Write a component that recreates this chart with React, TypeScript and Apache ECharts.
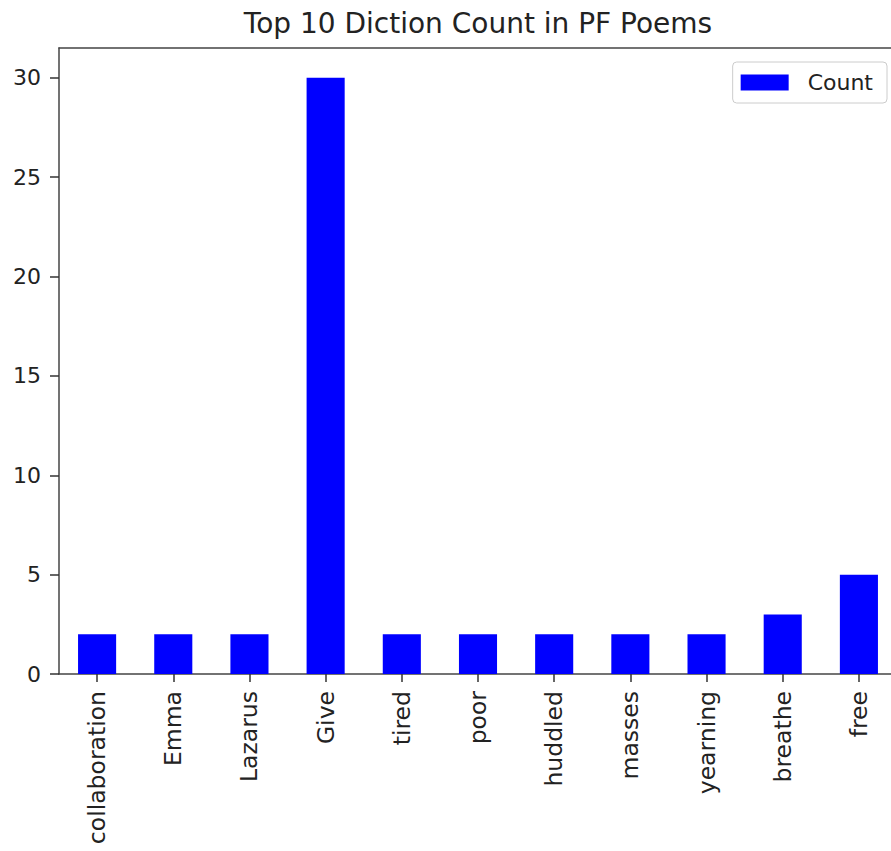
import React, { useEffect, useRef } from "react";
import * as echarts from "echarts";

const categories = ["collaboration", "Emma", "Lazarus", "Give", "tired", "poor", "huddled", "masses", "yearning", "breathe", "free"];
const counts = [2, 2, 2, 30, 2, 2, 2, 2, 2, 3, 5];
const yTicks = [0, 5, 10, 15, 20, 25, 30];
const titleText = "Top 10 Diction Count in PF Poems";
const seriesName = "Count";

const FONT = "DejaVu Sans";
const SPINE = { color: "#444", width: 1.5 };

export default function App() {
  const ref = useRef<HTMLDivElement>(null);
  useEffect(() => {
    if (!ref.current) return;
    const chart = echarts.init(ref.current, null, { renderer: "svg" });
    chart.setOption({
      animation: false,
      backgroundColor: "#ffffff",
      title: {
        text: titleText,
        left: 473,
        textAlign: "center",
        top: 4,
        textStyle: { fontFamily: FONT, fontSize: 28, fontWeight: "normal", color: "#222" },
      },
      legend: {
        data: [seriesName],
        icon: "rect",
        right: 13,
        top: 62,
        itemWidth: 48,
        itemHeight: 16,
        padding: [8, 14, 8, 8],
        backgroundColor: "rgba(255,255,255,0.8)",
        borderColor: "#cccccc",
        borderWidth: 1,
        borderRadius: 4,
        textStyle: { fontFamily: FONT, fontSize: 22, color: "#222", padding: [0, 0, 0, 14], lineHeight: 25 },
      },
      grid: {
        left: 59,
        top: 48,
        width: 838,
        height: 626,
        show: false,
        containLabel: false,
      },
      xAxis: [
        {
          type: "category",
          data: categories,
          boundaryGap: true,
          axisLine: { show: true, lineStyle: SPINE },
          axisTick: { show: true, alignWithLabel: true, length: 8, lineStyle: { color: "#333", width: 1.5 } },
          axisLabel: { rotate: 90, interval: 0, fontFamily: FONT, fontSize: 23.5, color: "#222", margin: 17 },
          splitLine: { show: false },
        },
        {
          type: "category",
          data: categories,
          position: "top",
          boundaryGap: true,
          axisLine: { show: true, lineStyle: SPINE },
          axisTick: { show: false },
          axisLabel: { show: false },
          splitLine: { show: false },
        },
      ],
      yAxis: {
        type: "value",
        min: 0,
        max: 31.5,
        axisLine: { show: true, lineStyle: SPINE },
        axisTick: { show: true, length: 9, customValues: yTicks, lineStyle: { color: "#333", width: 1.5 } },
        axisLabel: { fontFamily: FONT, fontSize: 22, color: "#222", margin: 18, customValues: yTicks },
        splitLine: { show: false },
      },
      series: [
        {
          name: seriesName,
          type: "bar",
          data: counts,
          barWidth: "50%",
          itemStyle: { color: "#0000ff" },
        },
      ],
    });
    return () => chart.dispose();
  }, []);
  return (
    <div style={{ position: "absolute", left: 0, top: 0, width: 891, height: 851, overflow: "hidden" }}>
      <div ref={ref} style={{ position: "absolute", left: 0, top: 0, width: 900, height: 851 }} />
    </div>
  );
}
